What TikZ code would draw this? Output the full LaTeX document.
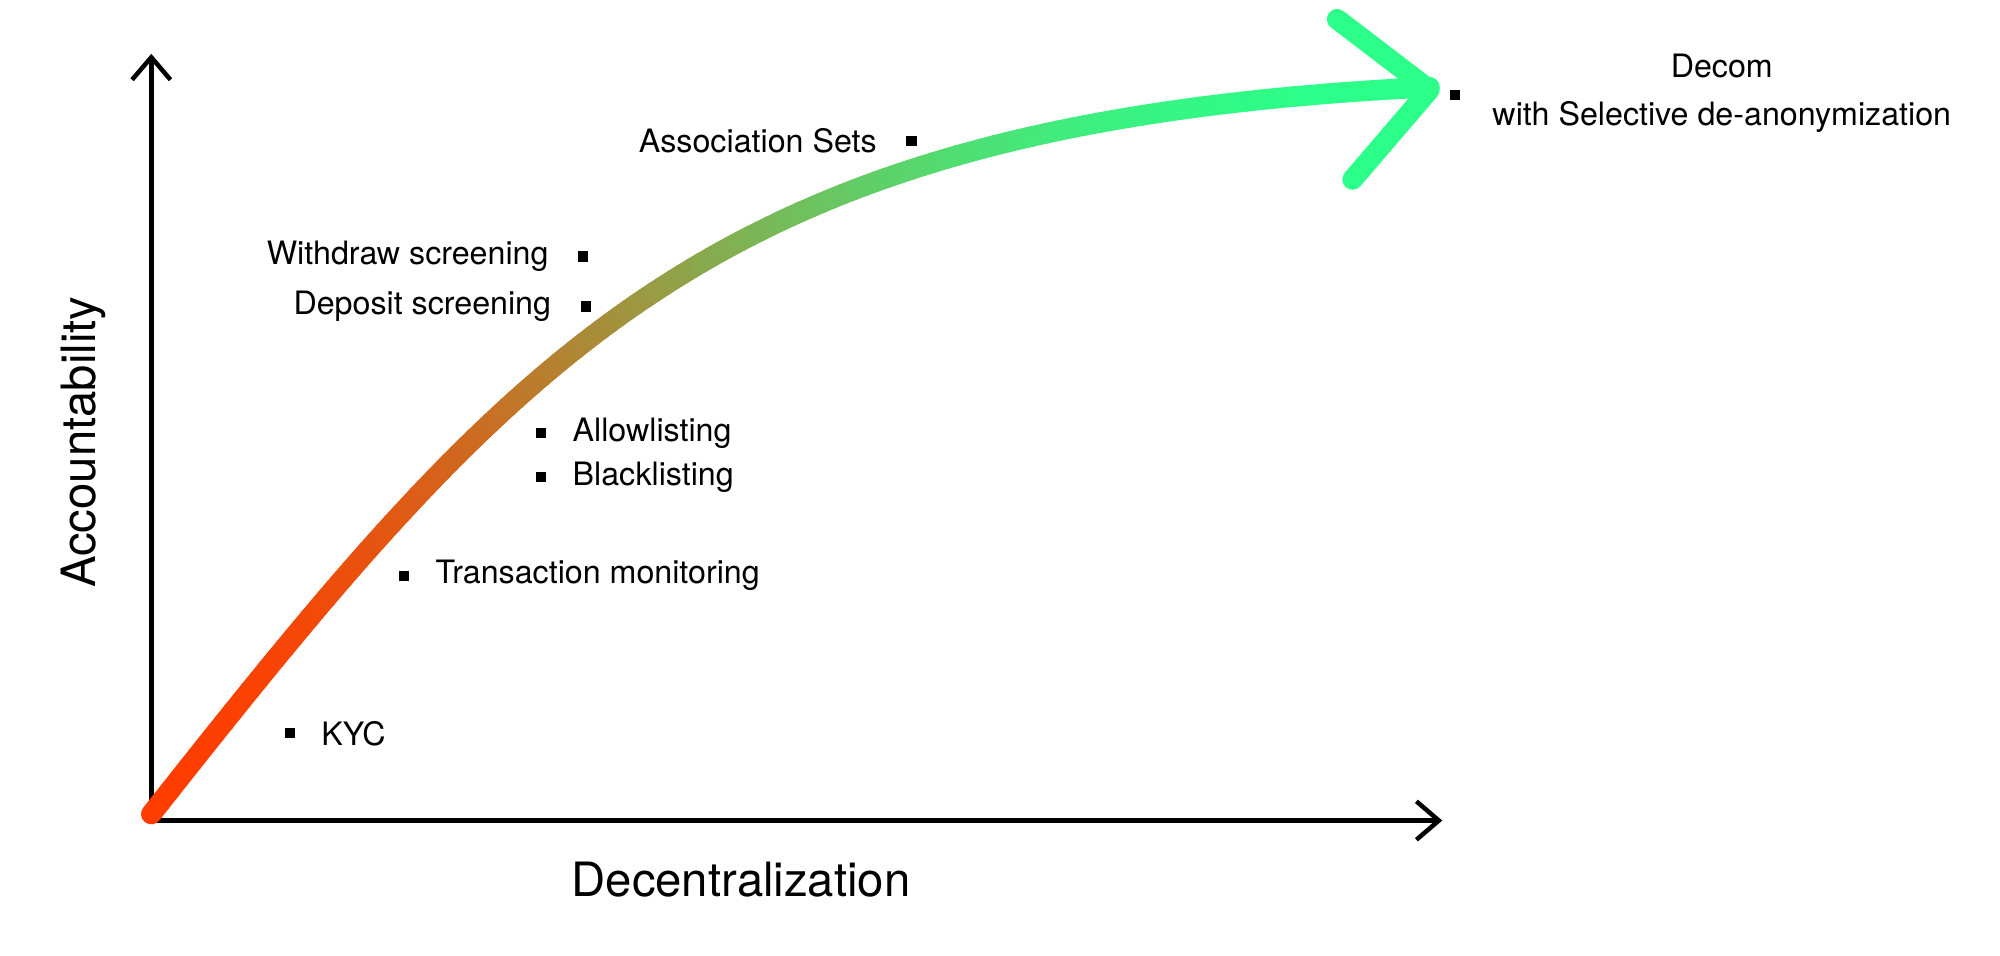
\documentclass[tikz,border=0pt]{standalone}
\usepackage{fontspec}
\setmainfont{TeX Gyre Heros}
\usetikzlibrary{arrows.meta,positioning}
\definecolor{startc}{HTML}{FF3D00}
\definecolor{endc}{HTML}{2BFF8A}
\tikzset{
    axis/.style={line width=2pt,-{Straight Barb[length=3.5mm,width=6mm,line width=2pt]}},
    dot/.style={fill=black,minimum size=1.6mm,inner sep=0pt},
    item/.style={inner sep=0pt,font=\fontsize{14.3}{17}\selectfont},
    axlabel/.style={font=\fontsize{21}{25}\selectfont}
}
\begin{document}
\begin{tikzpicture}[x=0.02cm,y=-0.02cm]
    \useasboundingbox (0,0) rectangle (1560,745);
    % axes
    \coordinate (o) at (118,640);
    \coordinate (ytop) at (118,42);
    \coordinate (xend) at (1125,640);
    \draw[axis] (o) -- (ytop);
    \draw[axis] (o) -- (xend);
    \node[axlabel,rotate=90] (ylab) at (65,345) {Accountability};
    \node[axlabel] (xlab) at (578,686) {Decentralization};
    % gradient curve
    \foreach \i in {0,...,119}{
        \pgfmathsetmacro{\ta}{\i/120}
        \pgfmathsetmacro{\tb}{(\i+1)/120}
        \pgfmathsetmacro{\xa}{(1-\ta)^3*118+3*(1-\ta)^2*\ta*410+3*(1-\ta)*\ta^2*560+\ta^3*1115}
        \pgfmathsetmacro{\ya}{(1-\ta)^3*635+3*(1-\ta)^2*\ta*265+3*(1-\ta)*\ta^2*95+\ta^3*68}
        \pgfmathsetmacro{\xb}{(1-\tb)^3*118+3*(1-\tb)^2*\tb*410+3*(1-\tb)*\tb^2*560+\tb^3*1115}
        \pgfmathsetmacro{\yb}{(1-\tb)^3*635+3*(1-\tb)^2*\tb*265+3*(1-\tb)*\tb^2*95+\tb^3*68}
        \pgfmathsetmacro{\pc}{100*(1-(3*\ta^2-2*\ta^3))}
        \draw[line width=0.32cm,line cap=round,color=startc!\pc!endc] (\xa,\ya) -- (\xb,\yb);
    }
    \coordinate (tip) at (1115,70);
    \coordinate (wa) at (1043,15);
    \coordinate (wb) at (1055,140);
    \draw[endc,line width=0.32cm,line cap=round,line join=round] (wa) -- (tip) -- (wb);
    % items
    \node[dot] (kyc) at (226,572) {};
    \node[item,right=0.4cm of kyc] (kyct) {KYC};
    \node[dot] (tm) at (315,449) {};
    \node[item,right=0.4cm of tm] (tmt) {Transaction monitoring};
    \node[dot] (al) at (422,338) {};
    \node[item,right=0.4cm of al] (alt) {Allowlisting};
    \node[dot] (bl) at (422,372) {};
    \node[item,right=0.4cm of bl] (blt) {Blacklisting};
    \node[dot] (ds) at (457,239) {};
    \node[item,left=0.45cm of ds] (dst) {Deposit screening};
    \node[dot] (ws) at (455,200) {};
    \node[item,left=0.45cm of ws] (wst) {Withdraw screening};
    \node[dot] (as) at (711,110) {};
    \node[item,left=0.45cm of as] (ast) {Association Sets};
    \node[dot] (dc) at (1135,74) {};
    \node[item,align=center] (dct) at (1343,73) {Decom\\[0.15cm]with Selective de-anonymization};
\end{tikzpicture}
\end{document}
